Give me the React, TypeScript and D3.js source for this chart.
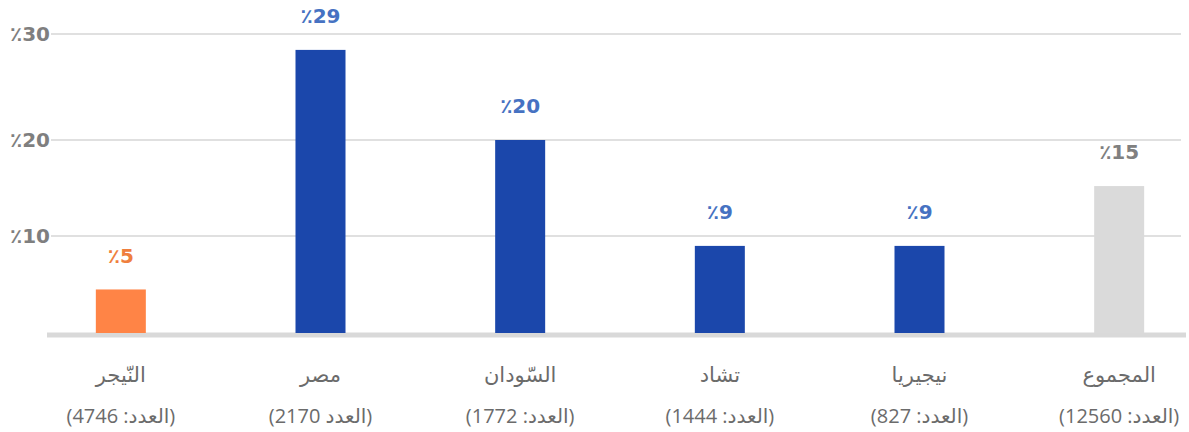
import React from "react";
import * as d3 from "d3";

const categories = ["النّيجر", "مصر", "السّودان", "تشاد", "نيجيريا", "المجموع"];
const counts = ["(العدد: 4746)", "(العدد 2170)", "(العدد: 1772)", "(العدد: 1444)", "(العدد: 827)", "(العدد: 12560)"];
const values = [4.6, 28.5, 20, 9, 9, 15.2];
const valueLabels = ["٪5", "٪29", "٪20", "٪9", "٪9", "٪15"];
const kinds = ["focus", "country", "country", "country", "country", "total"];
const yTicks = [10, 20, 30];
const yTickLabels = ["٪10", "٪20", "٪30"];

const W = 1189;
const H = 432;

const barFill: Record<string, string> = { focus: "#ff8446", country: "#1b47ab", total: "#dadada" };
const labelFill: Record<string, string> = { focus: "#ef7f3e", country: "#4672c2", total: "#808080" };

export default function App() {
  const x = d3.scaleBand<string>().domain(categories).range([21, 1219]).paddingInner(0.75).paddingOuter(0.375);
  const y = d3.scaleLinear().domain([0, 10, 20, 30]).range([335, 236, 140, 34]);
  const font = "'Open Sans', 'DejaVu Sans', sans-serif";
  const pctFont = "'DejaVu Sans', 'Open Sans', sans-serif";
  const bw = 50;
  return (
    <svg width={W} height={H} style={{ position: "absolute", left: 0, top: 0, background: "#fff" }} fontFamily={font}>
      {yTicks.map((t, i) => (
        <g key={t}>
          <line x1={51} x2={1181} y1={y(t)} y2={y(t)} stroke="#d6d6d6" strokeWidth={1.6} />
          <text x={50} y={y(t)} dy="0.36em" textAnchor="end" fontSize={20} fontWeight={700} fill="#7f7f7f" fontFamily={pctFont}>
            {yTickLabels[i]}
          </text>
        </g>
      ))}
      <line x1={47} x2={1186} y1={y(0)} y2={y(0)} stroke="#d9d9d9" strokeWidth={5} />
      {categories.map((c, i) => {
        const cx = (x(c) as number) + x.bandwidth() / 2;
        const top = y(values[i]);
        return (
          <g key={c}>
            <rect x={cx - bw / 2} y={top} width={bw} height={y(0) - 2 - top} fill={barFill[kinds[i]]} />
            <text x={cx} y={top - 34} dy="0.36em" textAnchor="middle" fontSize={20} fontWeight={700} fill={labelFill[kinds[i]]} fontFamily={pctFont}>
              {valueLabels[i]}
            </text>
            <text x={cx} y={375} dy="0.35em" textAnchor="middle" fontSize={21} fill="#6b6b6b">
              {c}
            </text>
            <text x={cx} y={416} dy="0.35em" textAnchor="middle" fontSize={20} fill="#6b6b6b">
              {counts[i]}
            </text>
          </g>
        );
      })}
    </svg>
  );
}
